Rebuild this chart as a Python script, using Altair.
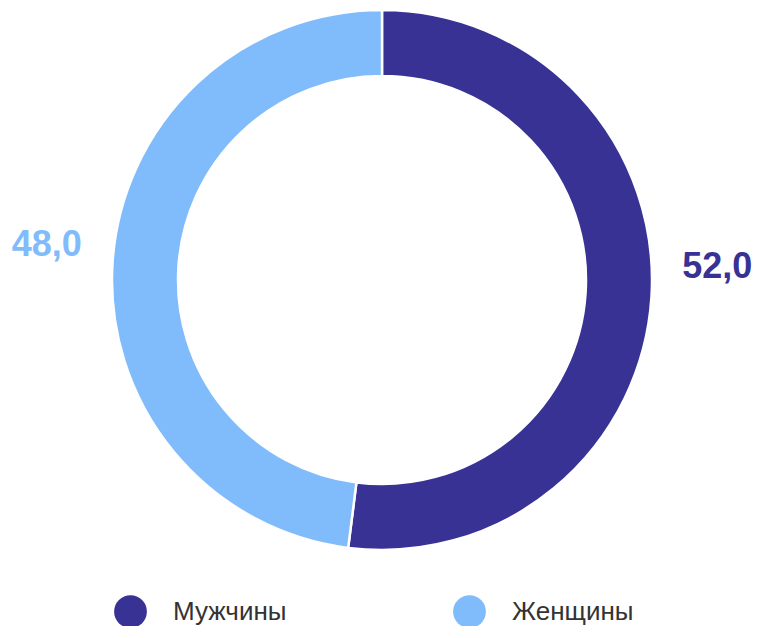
import altair as alt
import pandas as pd

categories = ["Мужчины", "Женщины"]
values = [52.0, 48.0]
labels = ["52,0", "48,0"]
colors = ["#373294", "#80bbfb"]

df = pd.DataFrame({"cat": categories, "val": values, "label": labels,
                   "order": [0, 1]})

color_scale = alt.Scale(domain=categories, range=colors)
FONT = "Liberation Sans"

arc = alt.Chart(df).mark_arc(outerRadius=270, innerRadius=204, stroke="white",
                             strokeWidth=2.5).encode(
    theta=alt.Theta("val:Q", stack=True),
    order=alt.Order("order:Q"),
    color=alt.Color("cat:N", scale=color_scale, sort=categories,
                    legend=alt.Legend(title=None, orient="none", direction="horizontal",
                                      legendX=102, legendY=587, symbolType="circle",
                                      symbolSize=1075, symbolStrokeWidth=0,
                                      labelFontSize=26, labelFont=FONT,
                                      labelColor="#333333", labelOffset=26,
                                      columnPadding=166, padding=0,
                                      labelLimit=300))
)

def label_layer(name, dy):
    return alt.Chart(df).mark_text(
        radius=336, fontSize=36, fontWeight="bold", font=FONT, dy=dy
    ).encode(
        theta=alt.Theta("val:Q", stack=True),
        order=alt.Order("order:Q"),
        text=alt.condition(alt.datum.cat == name, "label:N", alt.value("")),
        color=alt.Color("cat:N", scale=color_scale, legend=None),
    )

chart = alt.layer(
    arc,
    label_layer("Мужчины", -34),
    label_layer("Женщины", -14),
).properties(
    width=740, height=544,
    autosize=alt.AutoSizeParams(type="none"),
    padding={"left": 4, "top": 0, "right": 0, "bottom": 74},
).configure_view(stroke=None).configure(background="white")

chart.save("out.html", embed_options={"renderer": "svg", "actions": False})
